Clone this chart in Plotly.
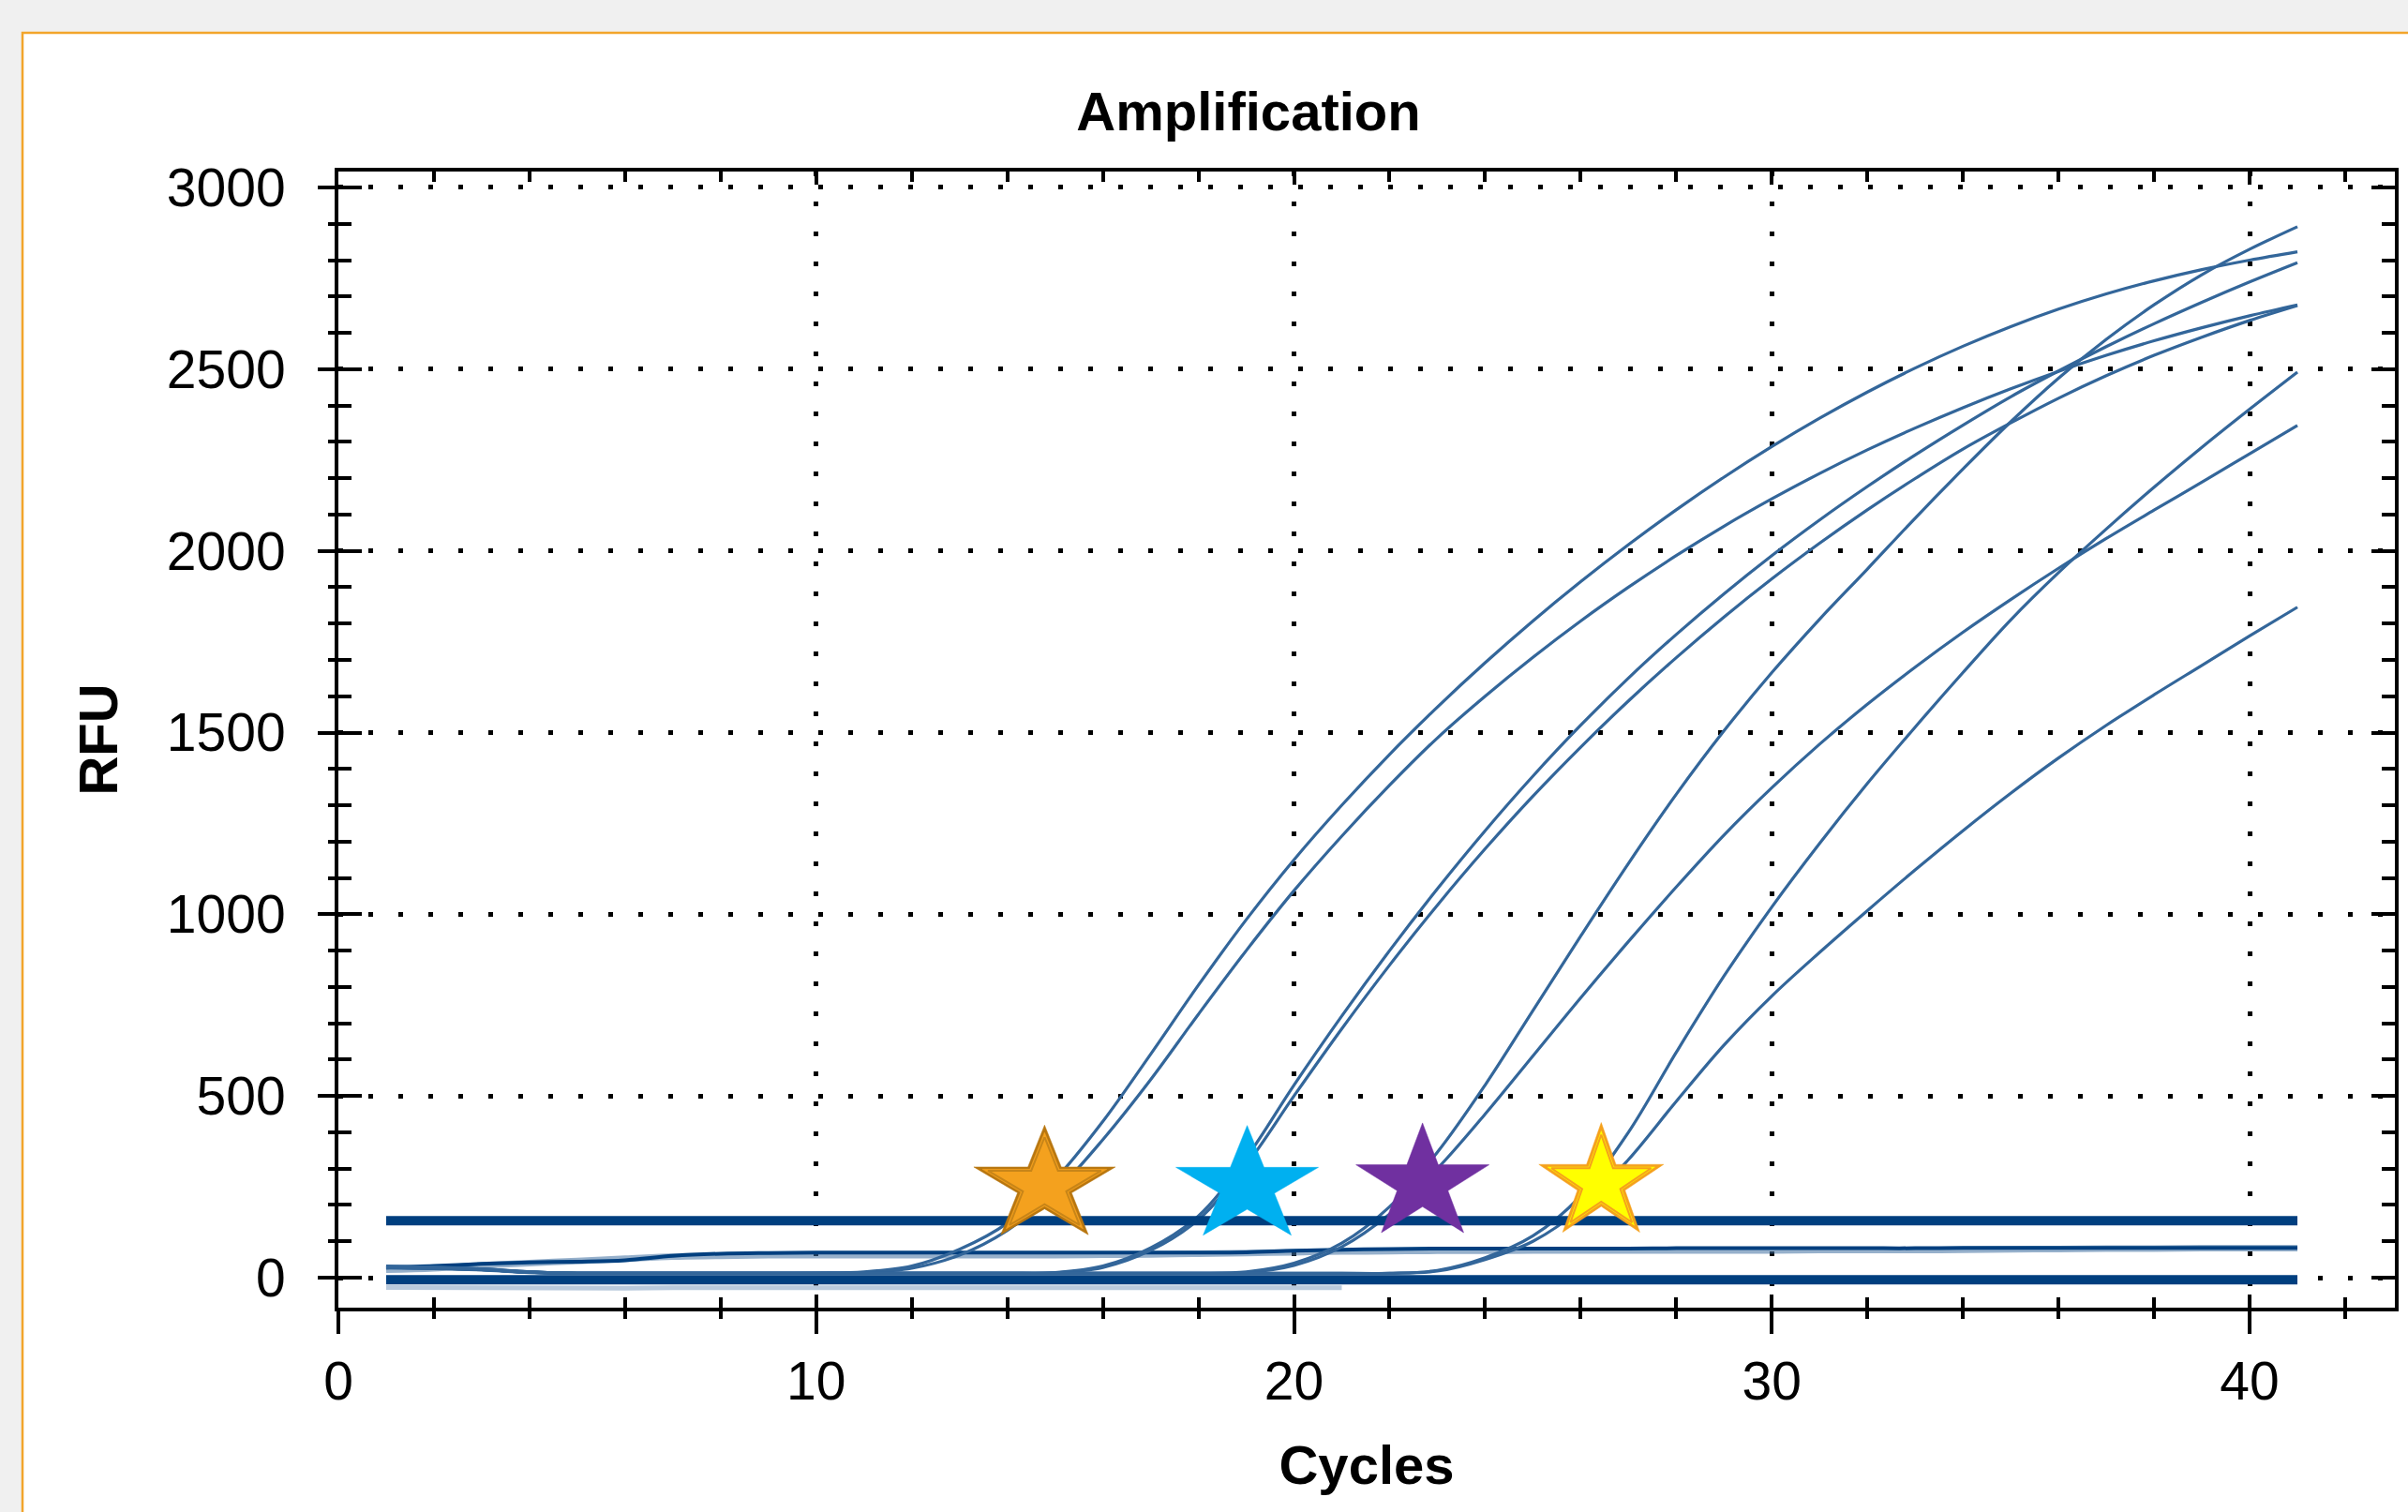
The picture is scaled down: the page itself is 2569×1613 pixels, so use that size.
import numpy as np
import plotly.graph_objects as go

# ---------------- data ----------------
cycles = list(range(1, 42))

curve_A1 = [32, 29, 24, 16, 12, 12, 12, 12, 12, 13, 16, 32, 78, 150, 270, 430, 615, 805, 985, 1150,
            1300, 1440, 1570, 1692, 1807, 1915, 2017, 2113, 2203, 2287, 2365, 2437, 2503, 2563, 2617,
            2665, 2707, 2743, 2774, 2800, 2823]
curve_A2 = [30, 27, 22, 15, 12, 12, 12, 12, 12, 12, 14, 26, 62, 130, 235, 380, 545, 725, 900, 1065,
            1215, 1355, 1485, 1600, 1707, 1807, 1900, 1987, 2068, 2143, 2213, 2278, 2338, 2394, 2446,
            2494, 2538, 2578, 2614, 2647, 2677]
curve_B1 = [28, 26, 22, 15, 12, 12, 12, 12, 12, 12, 12, 12, 12, 12, 14, 32, 82, 170, 330, 530,
            720, 900, 1070, 1230, 1380, 1520, 1650, 1770, 1882, 1987, 2085, 2177, 2264, 2346, 2424,
            2495, 2562, 2625, 2684, 2740, 2793]
curve_B2 = [29, 27, 23, 15, 12, 12, 12, 12, 12, 12, 12, 12, 12, 12, 13, 28, 75, 160, 310, 500,
            685, 860, 1025, 1180, 1325, 1460, 1587, 1706, 1818, 1923, 2021, 2113, 2199, 2280, 2352,
            2420, 2482, 2538, 2588, 2634, 2675]
curve_C1 = [30, 28, 23, 16, 12, 12, 12, 12, 12, 12, 12, 12, 12, 12, 12, 12, 12, 12, 16, 40,
            95, 195, 345, 530, 735, 940, 1140, 1330, 1505, 1665, 1812, 1950, 2090, 2225, 2355,
            2475, 2582, 2677, 2760, 2830, 2892]
curve_C2 = [27, 25, 21, 14, 12, 12, 12, 12, 12, 12, 12, 12, 12, 12, 12, 12, 12, 12, 14, 34,
            85, 175, 300, 450, 610, 770, 925, 1075, 1218, 1348, 1468, 1578, 1680, 1776, 1866,
            1952, 2034, 2112, 2189, 2267, 2345]
curve_D1 = [28, 26, 22, 15, 12, 12, 12, 12, 12, 12, 12, 12, 12, 12, 12, 12, 12, 12, 12, 12,
            12, 12, 20, 55, 115, 225, 400, 620, 830, 1020, 1195, 1360, 1515, 1665, 1810,
            1940, 2060, 2175, 2285, 2390, 2492]
curve_D2 = [31, 28, 24, 16, 12, 12, 12, 12, 12, 12, 12, 12, 12, 12, 12, 12, 12, 12, 12, 12,
            12, 12, 18, 50, 100, 190, 325, 485, 640, 775, 895, 1010, 1122, 1230, 1333,
            1430, 1520, 1604, 1685, 1766, 1845]

ntc_main = [28, 32, 38, 42, 44, 48, 60, 66, 68, 69, 69, 69, 69, 69, 69, 69, 69, 69, 70, 74,
            77, 79, 80, 80, 80, 80, 80, 81, 81, 81, 81, 81, 81, 82, 82, 82, 82, 82, 82, 82, 82]
ntc_shadow = [22, 26, 34, 40, 46, 52, 58, 60, 62, 62, 62, 62, 62, 62, 62, 63, 64, 66, 68, 70,
              72, 73, 74, 74, 75, 75, 75, 75, 75, 75, 76, 76, 76, 77, 78, 79, 80, 80, 81, 81, 81]
neg_cycles = list(range(1, 22))
neg_light = [-27, -28, -28, -27, -28, -29, -28, -28, -27, -28, -28, -28, -29, -28, -28, -27, -28,
             -28, -28, -28, -28]
zero_band = [-6] * 41
threshold = [157] * 41

star_ct = [14.78, 19.02, 22.69, 26.43]
star_rfu = [253, 252, 259, 260]

x_ticks = [0, 10, 20, 30, 40]
y_ticks = [0, 500, 1000, 1500, 2000, 2500, 3000]

# ---------------- geometry / style ----------------
W, H = 2569, 1613
ML, MR, MT, MB = 361, 14, 183, 218
PW, PH = W - ML - MR, H - MT - MB
x_range = [0, 43.04]
y_range = [-82.5, 3043.8]
px_x = PW / (x_range[1] - x_range[0])
px_y = PH / (y_range[1] - y_range[0])

FONT = "Liberation Sans"
CURVE_COLOR = "#33669A"
NAVY = "#003F7F"

star_w_px = [151, 152, 142, 133]
star_h_px = 117
star_layers = [
    [(1.0, "#B8760F", None, 0), (0.88, "#F4A11E", None, 0), (0.80, "#F4A11E", "#C88518", 2)],
    [(1.0, "#00B0F0", None, 0)],
    [(1.0, "#7030A0", None, 0)],
    [(1.0, "#F5A11C", None, 0), (0.86, "#FFFF00", None, 0), (0.80, "#FFFF00", "#F5A11C", 2)],
]


def star_xy(cx, cy, w_px, h_px, scale):
    k = np.arange(11)
    ang = np.deg2rad(90 + 36 * k)
    rad = np.where(k % 2 == 0, 1.0, 0.382)
    rx = scale * (w_px / 1.902) / px_x
    ry = scale * (h_px / 1.809) / px_y
    return cx + rx * rad * np.cos(ang), cy + ry * rad * np.sin(ang)


fig = go.Figure()

# background lines
fig.add_trace(go.Scatter(x=neg_cycles, y=neg_light, mode="lines",
                         line=dict(color="#B9CADD", width=5), hoverinfo="skip", showlegend=False))
fig.add_trace(go.Scatter(x=cycles, y=zero_band, mode="lines",
                         line=dict(color=NAVY, width=10), hoverinfo="skip", showlegend=False))
fig.add_trace(go.Scatter(x=cycles, y=ntc_shadow, mode="lines", line_shape="spline",
                         line=dict(color="rgba(63,111,160,0.55)", width=7), hoverinfo="skip",
                         showlegend=False))
fig.add_trace(go.Scatter(x=cycles, y=ntc_main, mode="lines", line_shape="spline",
                         line=dict(color=NAVY, width=4), hoverinfo="skip", showlegend=False))

for name, ys in [("A1", curve_A1), ("A2", curve_A2), ("B1", curve_B1), ("B2", curve_B2),
                 ("C1", curve_C1), ("C2", curve_C2), ("D1", curve_D1), ("D2", curve_D2)]:
    fig.add_trace(go.Scatter(x=cycles, y=ys, mode="lines", line_shape="spline", name=name,
                             line=dict(color=CURVE_COLOR, width=3.2), showlegend=False))

# threshold + stars on the overlay axes (drawn on top)
fig.add_trace(go.Scatter(x=cycles, y=threshold, mode="lines", xaxis="x2", yaxis="y2",
                         line=dict(color=NAVY, width=10), hoverinfo="skip", showlegend=False))
for i in range(len(star_ct)):
    for scale, fillc, linec, lw in star_layers[i]:
        sx, sy = star_xy(star_ct[i], star_rfu[i], star_w_px[i], star_h_px, scale)
        fig.add_trace(go.Scatter(x=sx, y=sy, mode="lines", fill="toself", fillcolor=fillc,
                                 xaxis="x2", yaxis="y2",
                                 line=dict(color=linec if linec else fillc, width=lw if lw else 0.5),
                                 hoverinfo="skip", showlegend=False))

tickfont = dict(family=FONT, size=57, color="black")
titlefont = dict(family=FONT, size=58, color="black", weight="bold")
grid = dict(showgrid=True, gridcolor="black", gridwidth=5, griddash="5px,27px")

fig.update_layout(
    width=W, height=H,
    margin=dict(l=ML, r=MR, t=MT, b=MB, pad=0),
    paper_bgcolor="#F0F0F0",
    plot_bgcolor="white",
    showlegend=False,
    title=dict(text="Amplification", x=1332 / W, xanchor="center", xref="container",
               y=1 - 119 / H, yref="container", yanchor="middle", font=titlefont),
    xaxis=dict(range=x_range, tickmode="array", tickvals=x_ticks,
               ticktext=[str(v) for v in x_ticks],
               ticks="outside", ticklen=24, tickwidth=4, tickcolor="black",
               minor=dict(tickmode="linear", tick0=0, dtick=2, ticks="outside", ticklen=8,
                          tickwidth=4, tickcolor="black", showgrid=False),
               showline=True, linewidth=4, linecolor="black", mirror=True,
               zeroline=False, tickfont=tickfont, ticklabelstandoff=2, automargin=False,
               title=dict(text="Cycles", font=titlefont, standoff=39), **grid),
    yaxis=dict(range=y_range, tickmode="array", tickvals=y_ticks,
               ticktext=[str(v) for v in y_ticks],
               ticks="outside", ticklen=18, tickwidth=4, tickcolor="black",
               minor=dict(tickmode="linear", tick0=0, dtick=100, ticks="outside", ticklen=7,
                          tickwidth=4, tickcolor="black", showgrid=False),
               showline=True, linewidth=4, linecolor="black", mirror=True,
               zeroline=False, tickfont=tickfont, ticklabelstandoff=23, automargin=False,
               title=dict(text="RFU", font=titlefont, standoff=34), **grid),
    xaxis2=dict(range=x_range, overlaying="x", anchor="y2", side="bottom",
                tickmode="array", tickvals=x_ticks, showticklabels=False,
                ticks="inside", ticklen=14, tickwidth=4, tickcolor="black", mirror="allticks",
                minor=dict(tickmode="linear", tick0=0, dtick=2, ticks="inside", ticklen=11,
                           tickwidth=4, tickcolor="black", showgrid=False),
                showline=True, linewidth=4, linecolor="black",
                showgrid=False, zeroline=False, automargin=False),
    yaxis2=dict(range=y_range, overlaying="y", anchor="x2", side="left",
                tickmode="array", tickvals=y_ticks, showticklabels=False,
                ticks="inside", ticklen=25, tickwidth=4, tickcolor="black", mirror="allticks",
                minor=dict(tickmode="linear", tick0=0, dtick=100, ticks="inside", ticklen=14,
                           tickwidth=4, tickcolor="black", showgrid=False),
                showline=True, linewidth=4, linecolor="black",
                showgrid=False, zeroline=False, automargin=False),
    shapes=[
        dict(type="rect", xref="paper", yref="paper", layer="below",
             x0=(24 - ML) / PW, x1=1.05, y0=-0.3, y1=(MT + PH - 35) / PH,
             fillcolor="white", line=dict(color="#F2A52B", width=2.5)),
        dict(type="line", xref="paper", yref="paper", layer="above",
             x0=0, x1=0, y0=0, y1=-18 / PH, line=dict(color="black", width=4)),
    ],
)

fig.write_html("out.html", config={"displayModeBar": False},
               post_script="document.body.style.margin='0';")
